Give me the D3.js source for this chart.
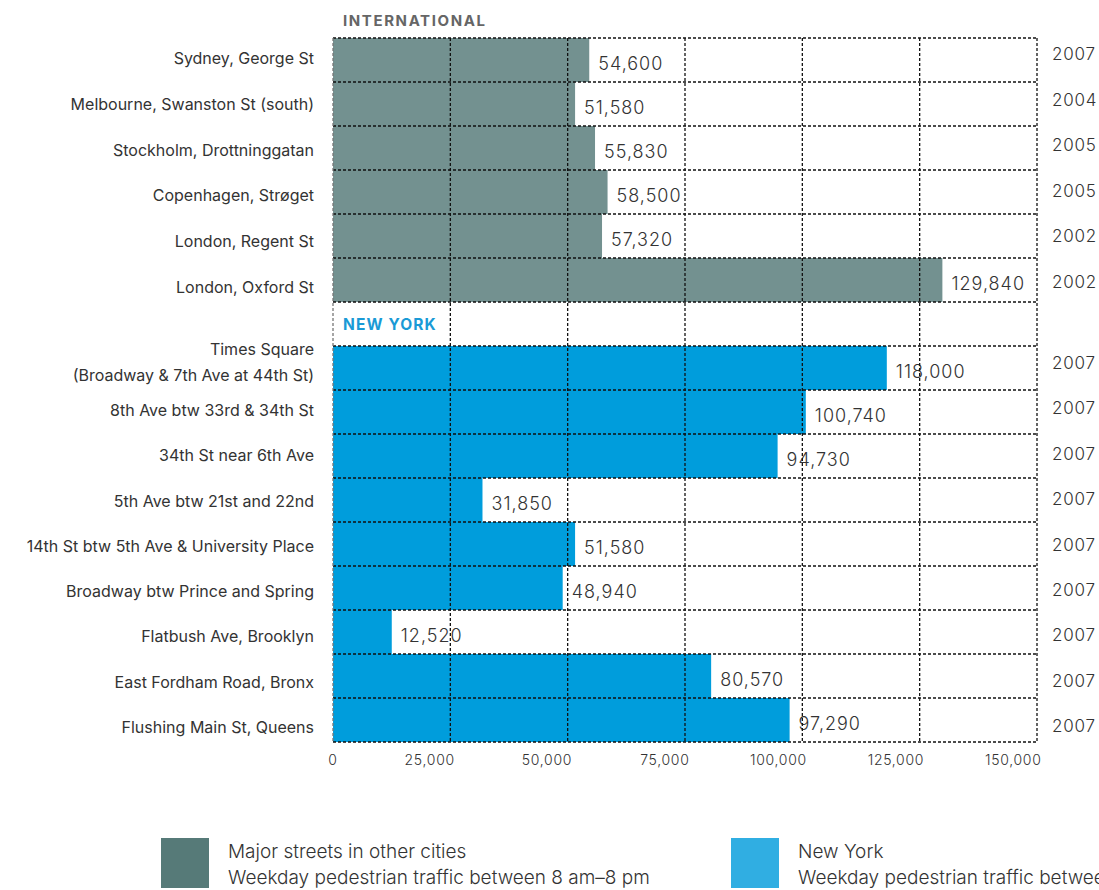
<!DOCTYPE html>
<html><head><meta charset="utf-8">
<script src="https://cdn.jsdelivr.net/npm/d3@7"></script>
<style>
body{margin:0;background:#fff;}
text{font-family:Inter,Roboto,"Noto Sans",sans-serif;fill:#333;}
</style></head>
<body>
<svg id="c" width="1099" height="890"></svg>
<script>
const intlCategories = ["Sydney, George St","Melbourne, Swanston St (south)","Stockholm, Drottninggatan","Copenhagen, Strøget","London, Regent St","London, Oxford St"];
const intlValues = [54600,51580,55830,58500,57320,129840];
const intlYears = ["2007","2004","2005","2005","2002","2002"];
const nyCategories = ["Times Square\n(Broadway & 7th Ave at 44th St)","8th Ave btw 33rd & 34th St","34th St near 6th Ave","5th Ave btw 21st and 22nd","14th St btw 5th Ave & University Place","Broadway btw Prince and Spring","Flatbush Ave, Brooklyn","East Fordham Road, Bronx","Flushing Main St, Queens"];
const nyValues = [118000,100740,94730,31850,51580,48940,12520,80570,97290];
const nyYears = ["2007","2007","2007","2007","2007","2007","2007","2007","2007"];
const tickValues = [0,25000,50000,75000,100000,125000,150000];
const legendLabels = [["Major streets in other cities","Weekday pedestrian traffic between 8 am–8 pm"],["New York","Weekday pedestrian traffic between 8 am–8 pm"]];

const svg = d3.select("#c");
const rows = [];
intlCategories.forEach((c,i)=>rows.push({key:"i"+i,cat:c,val:intlValues[i],year:intlYears[i],grp:"intl"}));
rows.push({key:"nyhead",header:"NEW YORK"});
nyCategories.forEach((c,i)=>rows.push({key:"n"+i,cat:c,val:nyValues[i],year:nyYears[i],grp:"ny"}));
const intlRows = rows.filter(r=>r.grp==="intl");
const nyRows = rows.filter(r=>r.grp==="ny");

const x = d3.scaleLinear().domain([0,150000]).range([333,1037]);
const y = d3.scaleBand().domain(rows.map(r=>r.key)).range([38,742]).padding(0);
// side text columns sit on a slightly looser rhythm than the bars
const labY = {
  intl: d3.scaleBand().domain(intlRows.map(r=>r.key)).range([36,36+6*45.8]),
  ny: d3.scaleBand().domain(nyRows.map(r=>r.key)).range([343,343+9*45.3])
};
const yearY = {
  intl: d3.scaleBand().domain(intlRows.map(r=>r.key)).range([31.2,31.2+6*45.6]),
  ny: d3.scaleBand().domain(nyRows.map(r=>r.key)).range([340.3,340.3+9*45.4])
};
const cy = (s,k)=>s(k)+s.bandwidth()/2;
const color = {intl:"#739190", ny:"#009ddc"};
const dataRows = rows.filter(r=>!r.header);

// bars
svg.append("g").selectAll("rect").data(dataRows).join("rect")
  .attr("x",x(0)).attr("y",d=>y(d.key)).attr("width",d=>x(d.val)-x(0)).attr("height",y.bandwidth())
  .attr("fill",d=>color[d.grp]);

// value labels
svg.append("g").selectAll("text").data(dataRows).join("text")
  .attr("x",d=>x(d.val)+9).attr("y",d=>y(d.key)+y.bandwidth()/2+10)
  .attr("font-size",18).attr("letter-spacing",1).attr("font-weight",300)
  .text(d=>d3.format(",")(d.val));

// horizontal dotted lines
const hy = rows.map(r=>y(r.key)).concat([y.range()[1]]);
svg.append("g").selectAll("line").data(hy).join("line")
  .attr("x1",x(0)).attr("x2",x(150000)).attr("y1",d=>d).attr("y2",d=>d)
  .attr("stroke","#111").attr("stroke-width",1.3).attr("stroke-dasharray","3,2");

// vertical dotted grid lines
svg.append("g").selectAll("line").data(tickValues).join("line")
  .attr("x1",d=>x(d)).attr("x2",d=>x(d)).attr("y1",38).attr("y2",742)
  .attr("stroke",d=>d===0?"#777":"#111").attr("stroke-width",1.3).attr("stroke-dasharray","3,2");

// x tick labels
const xAxis = d3.axisBottom(x).tickValues(tickValues).tickFormat(d3.format(",")).tickSize(0);
const ax = svg.append("g").attr("transform","translate(0,752)").call(xAxis);
ax.select(".domain").remove();
ax.selectAll("text").attr("font-size",14).attr("letter-spacing",0.7).attr("fill","#444")
  .attr("text-anchor","end").attr("dx",4).attr("dy","0.71em")
  .style("font-family","Inter,Roboto,sans-serif").style("font-weight",300);

// category labels
const cg = svg.append("g");
dataRows.forEach(r=>{
  const lines = r.cat.split("\n");
  const c = cy(labY[r.grp], r.key);
  const t = cg.append("text").attr("x",314).attr("text-anchor","end").attr("font-size",16).attr("fill","#333");
  if(lines.length===1){
    t.attr("y",c+5).text(lines[0]);
  } else {
    t.append("tspan").attr("x",314).attr("y",c-11).text(lines[0]);
    t.append("tspan").attr("x",314).attr("y",c+15).text(lines[1]);
  }
});

// years
svg.append("g").selectAll("text").data(dataRows).join("text")
  .attr("x",1052).attr("y",d=>cy(yearY[d.grp], d.key)+6)
  .attr("font-size",17).attr("letter-spacing",0.8).attr("font-weight",300)
  .text(d=>d.year);

// headers
svg.append("text").attr("x",343).attr("y",26).attr("font-size",15).attr("font-weight",700)
  .attr("letter-spacing",1.6).style("fill","#666").text("INTERNATIONAL");
svg.append("text").attr("x",343).attr("y",y("nyhead")+y.bandwidth()/2+6).attr("font-size",15.5).attr("font-weight",700)
  .attr("letter-spacing",1.1).style("fill","#1a9ad6").text("NEW YORK");

// legend
const legColors = ["#567a78","#30aee2"];
const legX = [161,731];
legendLabels.forEach((ls,i)=>{
  svg.append("rect").attr("x",legX[i]).attr("y",838).attr("width",48).attr("height",50).attr("fill",legColors[i]);
  svg.append("text").attr("x",legX[i]+67).attr("y",858).attr("font-size",19).attr("font-weight",300).text(ls[0]);
  svg.append("text").attr("x",legX[i]+67).attr("y",884).attr("font-size",19).attr("font-weight",300).text(ls[1]);
});
</script>
</body></html>
